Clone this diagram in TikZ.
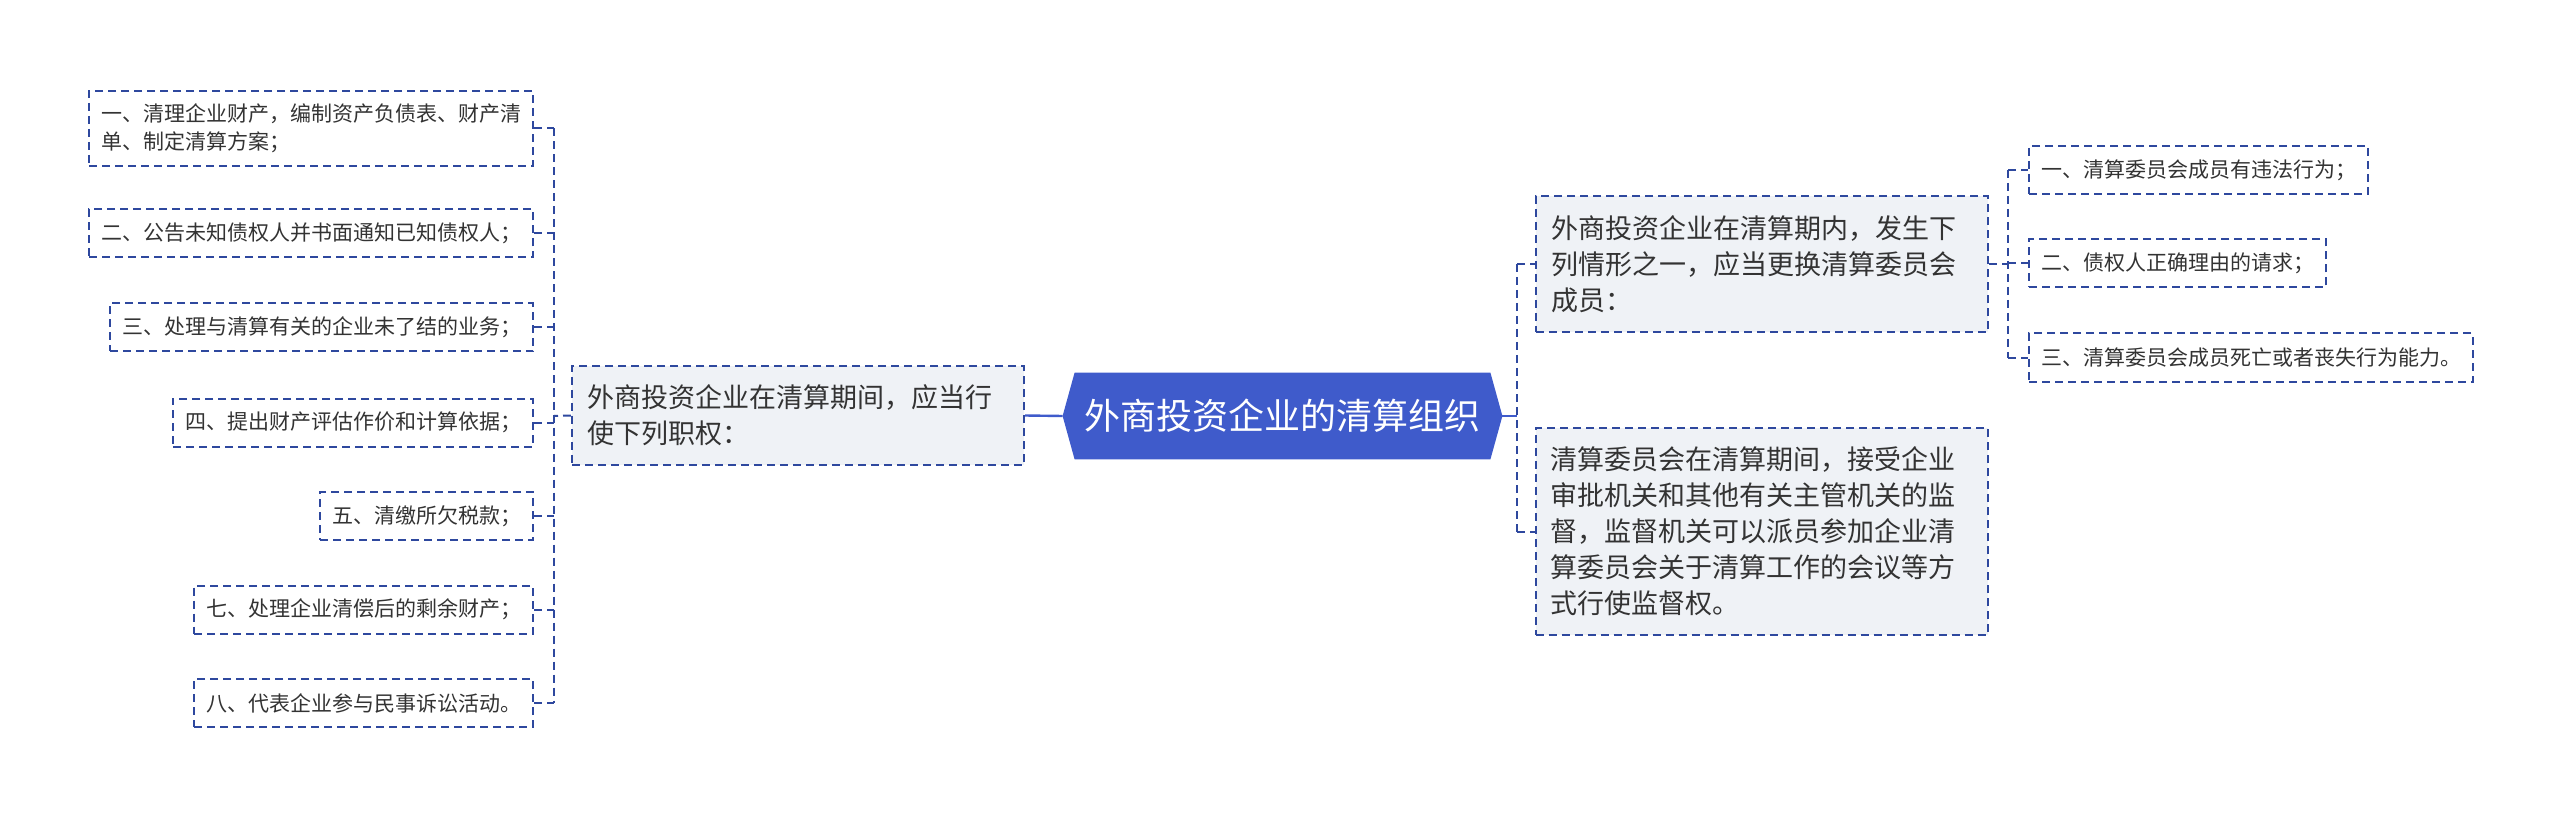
\documentclass[tikz,border=0pt]{standalone}
\usepackage{fontspec}
\setmainfont{Noto Sans CJK SC}
\usetikzlibrary{backgrounds}
\definecolor{rootblue}{RGB}{63,91,203}
\definecolor{linenavy}{RGB}{46,72,158}
\definecolor{boxgray}{RGB}{239,242,246}
\definecolor{textgray}{RGB}{51,51,51}
\tikzset{
  leafbox/.style={draw=linenavy, line width=1pt, dash pattern=on 4pt off 2.5pt,
    fill=white, text=textgray, align=left, inner xsep=6pt, inner ysep=0pt,
    minimum height=24pt, font=\fontsize{10.5}{14}\selectfont},
  midbox/.style={draw=linenavy, line width=1pt, dash pattern=on 4pt off 2.5pt,
    fill=boxgray, text=textgray, align=left, inner xsep=7.5pt, inner ysep=0pt,
    text width=211pt, font=\fontsize{13.5}{18}\selectfont},
  rootbox/.style={text=white, inner sep=0pt, minimum width=219.5pt,
    minimum height=43pt, font=\fontsize{18}{22}\selectfont},
  dashlink/.style={draw=linenavy, line width=1pt, dash pattern=on 4pt off 2.5pt},
  solidlink/.style={draw=rootblue, line width=1.2pt}
}
\begin{document}
\begin{tikzpicture}[x=0.5pt,y=-0.5pt]
    \useasboundingbox (0,0) rectangle (2560,818);
    %% root
    \node[rootbox] (root) at (1282.5,416) {外商投资企业的清算组织};
    \begin{pgfonlayer}{background}
      \fill[rootblue] (root.west) -- ([xshift=6pt]root.north west)
        -- ([xshift=-6pt]root.north east) -- (root.east)
        -- ([xshift=-6pt]root.south east) -- ([xshift=6pt]root.south west) -- cycle;
    \end{pgfonlayer}
    %% left branch
    \node[midbox, minimum height=49.5pt] (lmid) at (798,415.5)
      {外商投资企业在清算期间，应当行\\使下列职权：};
    \node[leafbox, anchor=east, minimum height=37.5pt] (l1) at (534,128.5)
      {一、清理企业财产，编制资产负债表、财产清\\单、制定清算方案；};
    \node[leafbox, anchor=east] (l2) at (534,233.5) {二、公告未知债权人并书面通知已知债权人；};
    \node[leafbox, anchor=east] (l3) at (534,327.5) {三、处理与清算有关的企业未了结的业务；};
    \node[leafbox, anchor=east] (l4) at (534,422.5) {四、提出财产评估作价和计算依据；};
    \node[leafbox, anchor=east] (l5) at (534,516) {五、清缴所欠税款；};
    \node[leafbox, anchor=east] (l7) at (534,609.5) {七、处理企业清偿后的剩余财产；};
    \node[leafbox, anchor=east] (l8) at (534,703) {八、代表企业参与民事诉讼活动。};
    %% right branch
    \node[midbox, minimum height=68pt] (rmid1) at (1762,264)
      {外商投资企业在清算期内，发生下\\列情形之一，应当更换清算委员会\\成员：};
    \node[midbox, minimum height=103.5pt] (rmid2) at (1761.5,531.5)
      {清算委员会在清算期间，接受企业\\审批机关和其他有关主管机关的监\\督，监督机关可以派员参加企业清\\算委员会关于清算工作的会议等方\\式行使监督权。};
    \node[leafbox, anchor=west] (r1) at (2028,170) {一、清算委员会成员有违法行为；};
    \node[leafbox, anchor=west] (r2) at (2028,263.5) {二、债权人正确理由的请求；};
    \node[leafbox, anchor=west] (r3) at (2028,357.5) {三、清算委员会成员死亡或者丧失行为能力。};
    %% trunks
    \coordinate (ltrunk) at (554,416);
    \coordinate (rtrunk) at (1517,416);
    \coordinate (rrtrunk) at (2008,264);
    %% links left
    \draw[solidlink] (lmid.east) -- (root.west);
    \draw[dashlink] (lmid.west) -- (ltrunk);
    \draw[dashlink] (ltrunk |- l1.east) -- (ltrunk |- l8.east);
    \foreach \n in {l1,l2,l3,l4,l5,l7,l8}
      \draw[dashlink] (\n.east) -- (ltrunk |- \n.east);
    %% links right
    \draw[solidlink] (root.east) -- (rtrunk);
    \draw[dashlink] (rtrunk |- rmid1.west) -- (rtrunk |- rmid2.west);
    \draw[dashlink] (rtrunk |- rmid1.west) -- (rmid1.west);
    \draw[dashlink] (rtrunk |- rmid2.west) -- (rmid2.west);
    \draw[dashlink] (rmid1.east) -- (rrtrunk);
    \draw[dashlink] (rrtrunk |- r1.west) -- (rrtrunk |- r3.west);
    \foreach \n in {r1,r2,r3}
      \draw[dashlink] (rrtrunk |- \n.west) -- (\n.west);
\end{tikzpicture}
\end{document}
